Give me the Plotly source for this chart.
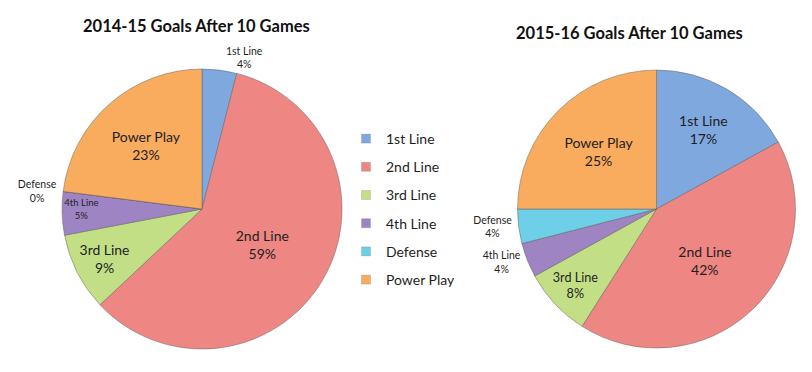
import plotly.graph_objects as go

categories = ["1st Line", "2nd Line", "3rd Line", "4th Line", "Defense", "Power Play"]
values_1415 = [4, 59, 9, 5, 0, 23]
values_1516 = [17, 42, 8, 4, 4, 25]
titles = ["2014-15 Goals After 10 Games", "2015-16 Goals After 10 Games"]

colors = ["#7FA8DE", "#EE8784", "#C3DF86", "#9E84C2", "#6DCFE8", "#F9AB5E"]
FONT = "Lato, 'Open Sans', sans-serif"
TXT = "#1e1e1e"

fig = go.Figure()

pie_common = dict(
    labels=categories,
    sort=False,
    direction="clockwise",
    rotation=0,
    texttemplate="%{label}<br>%{value}%",
    insidetextorientation="horizontal",
    marker=dict(colors=colors, line=dict(color="rgba(90,90,90,0.45)", width=1)),
    showlegend=False,
    hoverinfo="label+percent",
)

fig.add_trace(go.Pie(
    values=values_1415,
    domain=dict(x=[0.0764, 0.4212], y=[0.0618, 0.8145]),
    textposition=["outside", "inside", "inside", "inside", "outside", "inside"],
    textfont=dict(family=FONT, color=TXT, size=[10.5, 14, 14, 9.5, 10.5, 14]),
    **pie_common,
))
fig.add_trace(go.Pie(
    values=values_1516,
    domain=dict(x=[0.6367, 0.9803], y=[0.0645, 0.8118]),
    textposition=["inside", "inside", "inside", "outside", "outside", "inside"],
    textfont=dict(family=FONT, color=TXT, size=[14, 14, 14, 10.5, 10.5, 14]),
    **pie_common,
))

# legend entries (one per category, colour swatch)
for cat, col in zip(categories, colors):
    fig.add_trace(go.Scatter(
        x=[None], y=[None], mode="markers", name=cat, legendgroup=cat,
        marker=dict(symbol="square", size=9, color=col,
                    line=dict(color="rgba(90,90,90,0.4)", width=0.5)),
        showlegend=True, hoverinfo="skip",
    ))

fig.update_layout(
    width=812, height=372,
    margin=dict(l=0, r=0, t=0, b=0),
    paper_bgcolor="white", plot_bgcolor="white",
    font=dict(family=FONT, color=TXT),
    xaxis=dict(visible=False), yaxis=dict(visible=False),
    legend=dict(
        x=346 / 812, y=1 - 123 / 372, xanchor="left", yanchor="top",
        font=dict(family=FONT, size=14, color=TXT),
        tracegroupgap=7, bgcolor="rgba(0,0,0,0)",
    ),
    annotations=[
        dict(text="<b>" + titles[0] + "</b>", x=196 / 812, y=1 - 26 / 372,
             xref="paper", yref="paper", xanchor="center", yanchor="middle",
             showarrow=False, font=dict(family=FONT, size=16.5, color="#111111")),
        dict(text="<b>" + titles[1] + "</b>", x=629 / 812, y=1 - 33 / 372,
             xref="paper", yref="paper", xanchor="center", yanchor="middle",
             showarrow=False, font=dict(family=FONT, size=16.5, color="#111111")),
    ],
)

fig.write_html("out.html", config={"displayModeBar": False},
               post_script="document.body.style.margin='0';")
